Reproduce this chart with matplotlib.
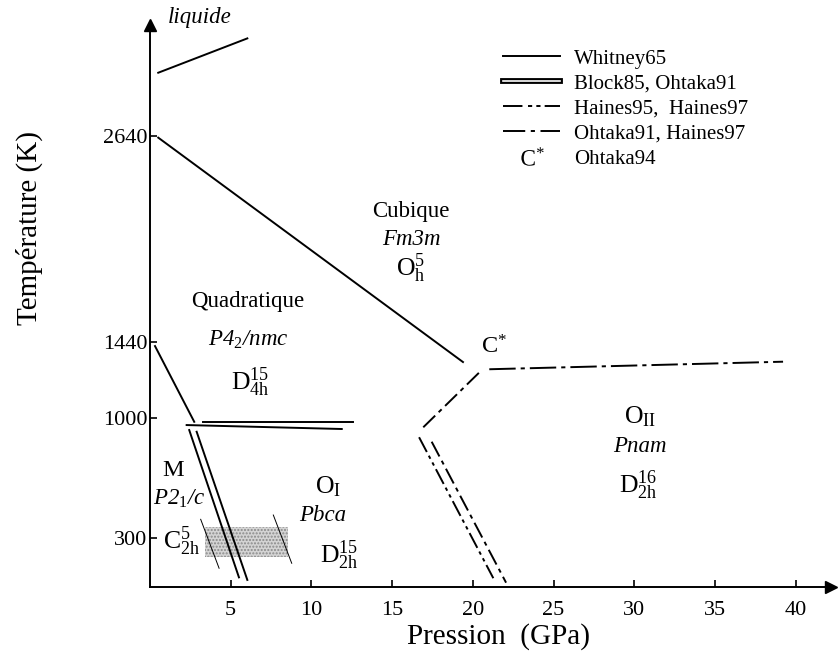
import matplotlib
matplotlib.use("Agg")
import matplotlib.pyplot as plt
import matplotlib.patheffects as pe
from matplotlib.lines import Line2D

plt.rcParams['font.family'] = ['Liberation Serif', 'DejaVu Serif']
plt.rcParams['mathtext.fontset'] = 'custom'
plt.rcParams['mathtext.rm'] = 'Liberation Serif'
plt.rcParams['mathtext.it'] = 'Liberation Serif:italic'
plt.rcParams['lines.scale_dashes'] = False

# phase boundaries, pressure in GPa, temperature in K
p_liquid = [0.51, 6.03]
t_liquid = [3008, 3208]
p_cub_tet = [0.51, 19.39]
t_cub_tet = [2630, 1323]
p_mono_tet = [0.31, 2.74]
t_mono_tet = [1416, 975]
p_tet_top = [3.30, 12.60]
t_tet_top = [972, 972]
p_tet_low = [2.27, 11.88]
t_tet_low = [956, 933]
p_block_a = [2.43, 5.51]
t_block_a = [927, 69]
p_block_b = [2.89, 6.03]
t_block_b = [917, 54]
p_hyst_l = [3.14, 4.28]
t_hyst_l = [407, 122]
p_hyst_r = [7.64, 8.78]
t_hyst_r = [432, 151]
p_shade = [3.41, 8.57]
t_shade = [189, 364]
p_ohtaka_up = [16.93, 20.45]
t_ohtaka_up = [943, 1267]
p_ohtaka_hz = [21.02, 39.22]
t_ohtaka_hz = [1281, 1325]
p_haines95 = [16.67, 21.27]
t_haines95 = [885, 64]
p_haines97 = [17.45, 22.06]
t_haines97 = [859, 38]

x_ticks = [5, 10, 15, 20, 25, 30, 35, 40]
y_ticks = [300, 1000, 1440, 2640]

dashdot_long = (0, (19, 3.6, 3, 3.6))
dashdot_short = (0, (12, 3.5, 3, 3.5))
dashdotdot = (0, (12, 3, 2.5, 3, 2.5, 3))

fig = plt.figure(figsize=(8.38, 6.59), dpi=100)
W, H = 838, 659
ax = fig.add_axes([150 / W, (H - 587) / H, (831 - 150) / W, (587 - 25) / H])

lw = 1.4
ax.plot(p_liquid, t_liquid, color='black', lw=lw)
ax.plot(p_cub_tet, t_cub_tet, color='black', lw=lw)
ax.plot(p_mono_tet, t_mono_tet, color='black', lw=lw)
ax.plot(p_tet_top, t_tet_top, color='black', lw=lw)
ax.plot(p_tet_low, t_tet_low, color='black', lw=lw)
ax.plot(p_block_a, t_block_a, color='black', lw=lw)
ax.plot(p_block_b, t_block_b, color='black', lw=lw)
ax.plot(p_hyst_l, t_hyst_l, color='black', lw=0.7)
ax.plot(p_hyst_r, t_hyst_r, color='black', lw=0.7)
ax.fill_between(p_shade, t_shade[0], t_shade[1], facecolor='#d4d4d4',
                edgecolor='#8a8a8a', hatch='.....', linewidth=0)
ax.plot(p_ohtaka_up, t_ohtaka_up, color='black', lw=lw, linestyle=dashdot_short)
ax.plot(p_ohtaka_hz, t_ohtaka_hz, color='black', lw=lw, linestyle=dashdot_long)
ax.plot(p_haines95, t_haines95, color='black', lw=lw, linestyle=dashdotdot)
ax.plot(p_haines97, t_haines97, color='black', lw=lw, linestyle=dashdot_short)

ax.set_xlim(0, 42.19)
ax.set_ylim(12.8, 3286)
ax.set_xticks(x_ticks)
ax.set_yticks(y_ticks)
ax.tick_params(axis='both', direction='in', length=5, width=1.2, labelsize=16)
ax.tick_params(axis='x', pad=10)
ax.tick_params(axis='y', pad=2)
for s in ['top', 'right']:
    ax.spines[s].set_visible(False)
for s in ['left', 'bottom']:
    ax.spines[s].set_linewidth(1.4)
# axis arrows
ax.plot(0, 1, '^k', markersize=9, transform=ax.transAxes, clip_on=False)
ax.plot(1, 0, '>k', markersize=9, transform=ax.transAxes, clip_on=False)

fs = 16.5
fm = 18.5
ax.text(3.09, 3330, 'liquide', fontsize=fs, style='italic', ha='center', va='center')
ax.text(16.17, 2197, 'Cubique', fontsize=fs, ha='center', va='center')
ax.text(16.17, 2034, 'Fm3m', fontsize=fs, style='italic', ha='center', va='center')
ax.text(16.17, 1871, r'$\mathrm{O}_\mathrm{h}^{5}$', fontsize=fm, ha='center', va='center')
ax.text(6.07, 1673, 'Quadratique', fontsize=fs, ha='center', va='center')
ax.text(6.07, 1451, r'P4$_2$/nmc', fontsize=fs, style='italic', ha='center', va='center')
ax.text(6.2, 1207, r'$\mathrm{D}_\mathrm{4h}^{15}$', fontsize=fm, ha='center', va='center')
ax.text(1.41, 694, 'M', fontsize=fs + 1, ha='center', va='center')
ax.text(1.80, 525, r'P2$_1$/c', fontsize=fs, style='italic', ha='center', va='center')
ax.text(1.96, 277, r'$\mathrm{C}_\mathrm{2h}^{5}$', fontsize=fm, ha='center', va='center')
ax.text(11.03, 597, r'$\mathrm{O}_\mathrm{I}$', fontsize=fm, ha='center', va='center')
ax.text(10.72, 428, 'Pbca', fontsize=fs, style='italic', ha='center', va='center')
ax.text(11.71, 199, r'$\mathrm{D}_\mathrm{2h}^{15}$', fontsize=fm, ha='center', va='center')
ax.text(21.31, 1412, r'$\mathrm{C}^{*}$', fontsize=fs + 1, ha='center', va='center')
ax.text(30.36, 1005, r'$\mathrm{O}_\mathrm{II}$', fontsize=fm, ha='center', va='center')
ax.text(30.36, 830, 'Pnam', fontsize=fs, style='italic', ha='center', va='center')
ax.text(30.24, 607, r'$\mathrm{D}_\mathrm{2h}^{16}$', fontsize=fm, ha='center', va='center')

fig.text(498 / W, 1 - 637 / H, 'Pression  (GPa)', fontsize=21, ha='center', va='center')
fig.text(29 / W, 1 - 228 / H, 'Température (K)', fontsize=21, rotation=90,
         ha='center', va='center')

# legend
h_whitney = Line2D([], [], color='black', lw=lw)
h_block = Line2D([], [], color='white', lw=1.2,
                 path_effects=[pe.Stroke(linewidth=4.2, foreground='black'), pe.Normal()])
h_haines = Line2D([], [], color='black', lw=lw, linestyle=(0, (14, 4, 3, 3, 3, 3)))
h_ohtaka = Line2D([], [], color='black', lw=lw, linestyle=(0, (16, 4, 3, 4)))
h_cstar = Line2D([], [], color='black', linestyle='none', marker=r'$\mathrm{C}^{*}$',
                 markersize=16, markeredgewidth=0)
ax.legend(handles=[h_whitney, h_block, h_haines, h_ohtaka, h_cstar],
          labels=['Whitney65', 'Block85, Ohtaka91', 'Haines95,  Haines97',
                  'Ohtaka91, Haines97', 'Ohtaka94'],
          loc='upper left', bbox_to_anchor=(503 / W, 1 - 49 / H),
          bbox_transform=fig.transFigure, frameon=False, fontsize=15,
          handlelength=2.75, handletextpad=0.65, labelspacing=0.26,
          borderpad=0, borderaxespad=0, numpoints=1)

fig.savefig('out.png', dpi=100)
